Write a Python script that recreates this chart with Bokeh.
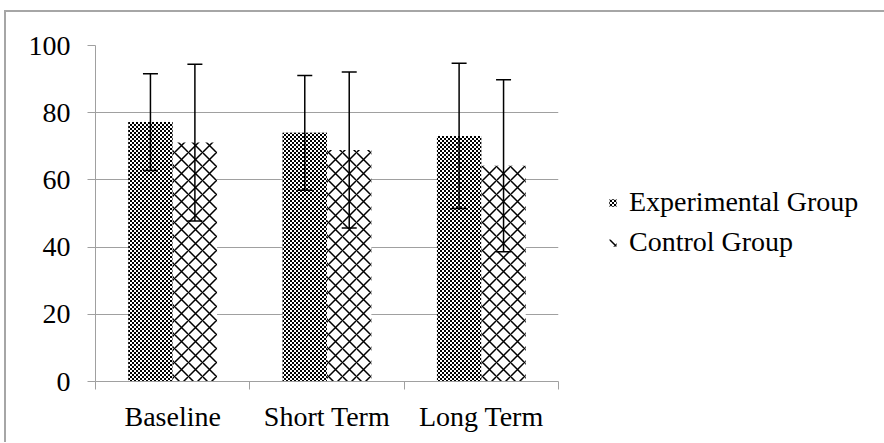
import base64
import struct
import zlib

from bokeh.plotting import figure
from bokeh.models import (Range1d, FixedTicker, ColumnDataSource,
                          Whisker, TeeHead, Legend, LegendItem, ImageURLTexture)
from bokeh.core.properties import value
from bokeh.transform import dodge
from bokeh.embed import file_html
from bokeh.resources import INLINE

# ---- data ----
categories = ["Baseline", "Short Term", "Long Term"]
series_names = ["Experimental Group", "Control Group"]
exp_mean = [77.2, 74.0, 73.1]
exp_sd = [14.4, 17.1, 21.6]
ctrl_mean = [71.1, 68.9, 64.2]
ctrl_sd = [23.3, 23.2, 25.6]
y_ticks = [0, 20, 40, 60, 80, 100]

FONT = "Liberation Serif"
FS = "28px"
GRAY = "#a0a0a0"

n = len(categories)
centers = [i + 0.5 for i in range(n)]  # category slot centres on a 0..n axis

src = ColumnDataSource(dict(
    x=centers,
    cat=categories,
    exp=exp_mean,
    exp_hi=[m + s for m, s in zip(exp_mean, exp_sd)],
    exp_lo=[m - s for m, s in zip(exp_mean, exp_sd)],
    ctrl=ctrl_mean,
    ctrl_hi=[m + s for m, s in zip(ctrl_mean, ctrl_sd)],
    ctrl_lo=[m - s for m, s in zip(ctrl_mean, ctrl_sd)],
))


def checker_png_uri():
    # 4x4 grayscale tile: 2px black / 2px white checkerboard
    rows = [[0, 0, 255, 255], [0, 0, 255, 255], [255, 255, 0, 0], [255, 255, 0, 0]]
    raw = b"".join(b"\x00" + bytes(r) for r in rows)

    def chunk(tag, data):
        c = struct.pack(">I", len(data)) + tag + data
        return c + struct.pack(">I", zlib.crc32(tag + data) & 0xFFFFFFFF)

    png = (b"\x89PNG\r\n\x1a\n"
           + chunk(b"IHDR", struct.pack(">IIBBBBB", 4, 4, 8, 0, 0, 0, 0))
           + chunk(b"IDAT", zlib.compress(raw))
           + chunk(b"IEND", b""))
    return "data:image/png;base64," + base64.b64encode(png).decode()


p = figure(x_range=Range1d(0, n), y_range=Range1d(0, 100),
           frame_width=463, frame_height=336,
           min_border_left=89, min_border_right=324, min_border_top=33, min_border_bottom=61,
           output_backend="svg", toolbar_location=None)
p.styles = {"margin-left": "4px", "margin-top": "10px",
            "border-left": "2px solid #a6a6a6", "border-top": "2px solid #a6a6a6"}
p.outline_line_color = None
p.background_fill_color = "white"
p.border_fill_color = "white"

# y axis
ya = p.yaxis[0]
ya.ticker = FixedTicker(ticks=y_ticks)
ya.axis_line_color = GRAY
ya.axis_line_width = 1
ya.major_tick_line_color = GRAY
ya.major_tick_out = 8
ya.major_tick_in = 0
ya.minor_tick_line_color = None
ya.major_label_standoff = 17
ya.major_label_text_font = FONT
ya.major_label_text_font_size = FS
ya.major_label_text_color = "black"

p.xgrid.visible = False
p.ygrid.grid_line_color = GRAY
p.ygrid.grid_line_width = 1

# x axis: category names at slot centres, tick marks at slot boundaries
xa = p.xaxis[0]
xa.ticker = FixedTicker(ticks=centers, minor_ticks=list(range(n + 1)))
xa.major_label_overrides = {c: lab for c, lab in zip(centers, categories)}
xa.axis_line_color = GRAY
xa.major_tick_line_color = None
xa.major_tick_out = 8
xa.major_tick_in = 0
xa.minor_tick_line_color = GRAY
xa.minor_tick_out = 8
xa.minor_tick_in = 0
xa.major_label_standoff = 11
xa.major_label_text_font = FONT
xa.major_label_text_font_size = FS
xa.major_label_text_color = "black"

checker = ImageURLTexture(url=checker_png_uri(), repetition="repeat")

W = 0.287
OFF = 0.144
r1 = p.vbar(x=dodge("x", -OFF), top="exp", width=W, source=src,
            fill_color="#6a6a6a", line_color=None,
            hatch_pattern=value("checker"), hatch_extra={"checker": checker},
            hatch_color="black", hatch_scale=4)
r2 = p.vbar(x=dodge("x", OFF), top="ctrl", width=W, source=src,
            fill_color="white", line_color=None,
            hatch_pattern="diagonal_cross", hatch_scale=14, hatch_weight=1.5,
            hatch_color="black")

for off, hi, lo in [(-OFF, "exp_hi", "exp_lo"), (OFF, "ctrl_hi", "ctrl_lo")]:
    w = Whisker(base=dodge("x", off), upper=hi, lower=lo, source=src,
                line_color="black", line_width=1.5, level="annotation",
                upper_head=TeeHead(size=15, line_color="black", line_width=1.5),
                lower_head=TeeHead(size=15, line_color="black", line_width=1.5))
    p.add_layout(w)

legend = Legend(items=[LegendItem(label=series_names[0], renderers=[r1]),
                       LegendItem(label=series_names[1], renderers=[r2])],
                location=(50, 123))
legend.border_line_color = None
legend.background_fill_alpha = 0
legend.label_text_font = FONT
legend.label_text_font_size = FS
legend.label_text_color = "black"
legend.glyph_width = 9
legend.glyph_height = 9
legend.label_standoff = 12
legend.spacing = 8
legend.padding = 0
legend.margin = 0
p.add_layout(legend, "right")

open("out.html", "w").write(file_html(p, INLINE))
